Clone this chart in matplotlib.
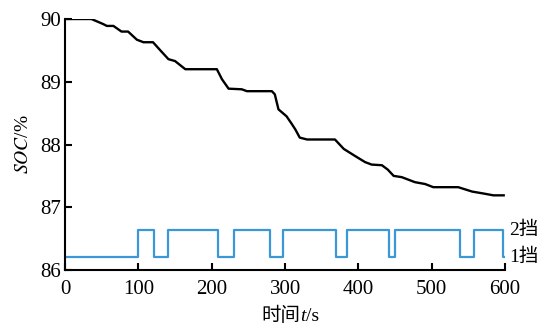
import matplotlib
matplotlib.use("Agg")
import matplotlib.pyplot as plt
from matplotlib.offsetbox import TextArea, HPacker, AnchoredOffsetbox

# SOC curve over the drive cycle
time_s = [0, 36, 52, 57, 66, 77, 86, 98, 107, 120, 130, 141, 150, 164, 207, 214,
          223, 241, 248, 282, 286, 291, 302, 309, 314, 320, 330, 368, 380, 395,
          409, 418, 432, 440, 448, 459, 477, 491, 502, 536, 555, 570, 584, 598]
soc = [90.0, 90.0, 89.92, 89.89, 89.89, 89.80, 89.80, 89.67, 89.63, 89.63, 89.50,
       89.36, 89.33, 89.20, 89.20, 89.04, 88.89, 88.88, 88.85, 88.85, 88.80, 88.56,
       88.45, 88.33, 88.24, 88.11, 88.08, 88.08, 87.93, 87.82, 87.72, 87.68, 87.67,
       87.60, 87.50, 87.48, 87.40, 87.37, 87.32, 87.32, 87.25, 87.22, 87.19, 87.19]

# Gear shift points (s) and gear after each point
gear_time = [0, 100, 122, 141, 208, 231, 280, 297, 369, 384, 441, 450, 538, 557, 597, 600]
gear = [1, 2, 1, 2, 1, 2, 1, 2, 1, 2, 1, 2, 1, 2, 1, 1]
gear_level = {1: 86.2, 2: 86.63}
gear_labels = ["1挡", "2挡"]

x_ticks = [0, 100, 200, 300, 400, 500, 600]
y_ticks = [86, 87, 88, 89, 90]

plt.rcParams["font.family"] = ["Liberation Serif", "Noto Sans CJK SC"]
plt.rcParams["mathtext.fontset"] = "stix"

fig = plt.figure(figsize=(5.43, 3.29), dpi=100)
ax = fig.add_axes([0.1197, 0.1793, 0.8106, 0.7629])

ax.plot(time_s, soc, color="black", lw=1.7)
ax.step(gear_time, [gear_level[g] for g in gear], where="post", color="#3b97d8", lw=1.6)

for g, label in zip([1, 2], gear_labels):
    ax.text(606, gear_level[g], label, ha="left", va="center", fontsize=14, clip_on=False)

ax.set_xlim(0, 600)
ax.set_ylim(86, 90)
ax.set_xticks(x_ticks)
ax.set_yticks(y_ticks)
ax.spines["top"].set_visible(False)
ax.spines["right"].set_visible(False)
for s in ["left", "bottom"]:
    ax.spines[s].set_linewidth(1.5)
ax.tick_params(direction="in", length=5, width=1.5, labelsize=15)
ax.tick_params(axis="x", pad=7)
ax.tick_params(axis="y", pad=3)

# x label: mixed CJK / italic latin, packed piece by piece
parts = [TextArea("时间", textprops=dict(fontsize=14)),
         TextArea("t", textprops=dict(fontsize=14, style="italic")),
         TextArea("/s", textprops=dict(fontsize=14))]
xlab = AnchoredOffsetbox(loc="center", child=HPacker(children=parts, sep=0, pad=0, align="baseline"),
                         bbox_to_anchor=(0.534, 0.04), bbox_transform=fig.transFigure,
                         frameon=False, pad=0, borderpad=0)
fig.add_artist(xlab)

ax.set_ylabel(r"$\mathit{SOC}$/%", fontsize=14, labelpad=6)

fig.savefig("out.png", dpi=100)
